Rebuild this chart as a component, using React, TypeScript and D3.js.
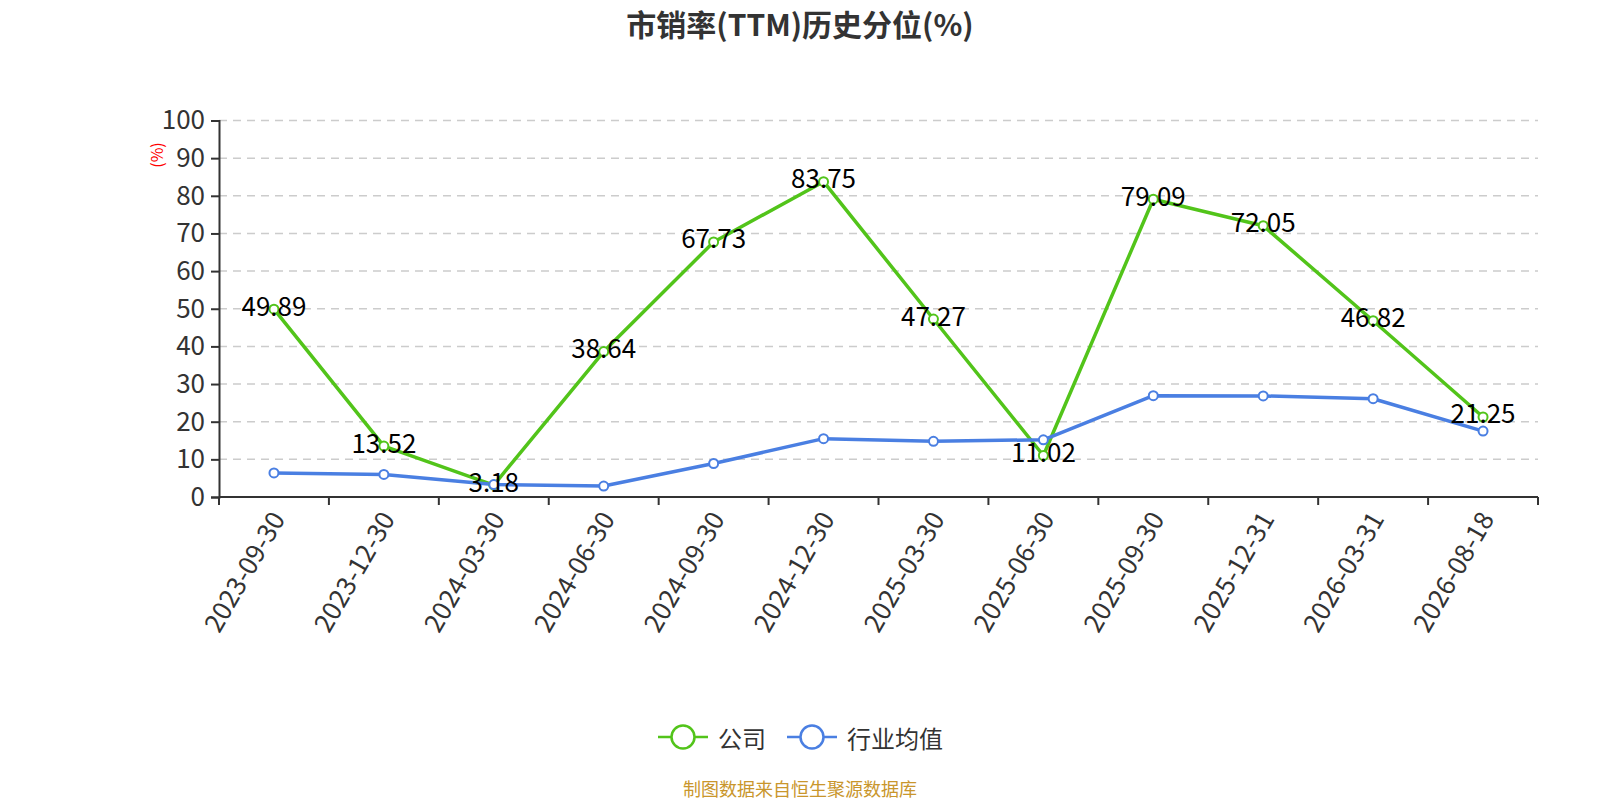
import React, { useRef, useEffect } from 'react';
import * as d3 from 'd3';

const WIDTH = 1600;
const HEIGHT = 800;
const FONT = '"Noto Sans CJK SC", "Noto Sans", sans-serif';

const dates = [
  '2023-09-30', '2023-12-30', '2024-03-30', '2024-06-30', '2024-09-30', '2024-12-30',
  '2025-03-30', '2025-06-30', '2025-09-30', '2025-12-31', '2026-03-31', '2026-08-18',
];
const companyValues = [49.89, 13.52, 3.18, 38.64, 67.73, 83.75, 47.27, 11.02, 79.09, 72.05, 46.82, 21.25];
const industryValues = [6.4, 6.0, 3.3, 2.9, 8.9, 15.5, 14.8, 15.2, 26.9, 26.85, 26.1, 17.5];
const yTicks = [0, 10, 20, 30, 40, 50, 60, 70, 80, 90, 100];

const series = [
  { name: '公司', values: companyValues, color: '#52c41a', labels: true },
  { name: '行业均值', values: industryValues, color: '#4a7fe2', labels: false },
];

const margin = { left: 219, right: 62, top: 120.5, bottom: 303 };

export default function App() {
  const svgRef = useRef<SVGSVGElement>(null);

  useEffect(() => {
    if (!svgRef.current) return;
    const svg = d3.select(svgRef.current);
    svg.selectAll('*').remove();

    const x = d3.scaleBand<string>().domain(dates).range([margin.left, WIDTH - margin.right]);
    const y = d3.scaleLinear().domain([0, 100]).range([HEIGHT - margin.bottom, margin.top]);
    const cx = (d: string) => (x(d) ?? 0) + x.bandwidth() / 2;

    // title
    svg.append('text')
      .attr('x', 800).attr('y', 23)
      .attr('text-anchor', 'middle').attr('dominant-baseline', 'central')
      .attr('font-family', FONT).attr('font-size', 30).attr('font-weight', 'bold')
      .attr('fill', '#333').text('市销率(TTM)历史分位(%)');

    // grid lines
    svg.append('g').selectAll('line').data(yTicks.filter(t => t > 0)).join('line')
      .attr('x1', margin.left).attr('x2', WIDTH - margin.right)
      .attr('y1', d => y(d)).attr('y2', d => y(d))
      .attr('stroke', '#ccc').attr('stroke-width', 1.5).attr('stroke-dasharray', '8,6');

    // y axis
    const yAxis = svg.append('g').attr('transform', `translate(${margin.left},0)`)
      .call(d3.axisLeft(y).tickValues(yTicks).tickSize(8).tickPadding(6));
    yAxis.select('.domain').attr('stroke', '#333').attr('stroke-width', 2);
    yAxis.selectAll('.tick line').attr('stroke', '#333').attr('stroke-width', 2);
    yAxis.selectAll('.tick text').attr('font-family', FONT).attr('font-size', 26).attr('fill', '#333');

    // y unit
    svg.append('text')
      .attr('transform', 'translate(156,155) rotate(-90)')
      .attr('text-anchor', 'middle').attr('dominant-baseline', 'central')
      .attr('font-family', FONT).attr('font-size', 16).attr('fill', 'red').text('(%)');

    // x axis
    const x0 = y(0);
    const xAxis = svg.append('g').attr('transform', `translate(0,${x0})`);
    xAxis.append('line')
      .attr('x1', margin.left).attr('x2', WIDTH - margin.right)
      .attr('stroke', '#333').attr('stroke-width', 2);
    const boundaries = [...dates.map(d => x(d) ?? 0), WIDTH - margin.right];
    xAxis.selectAll('line.tick').data(boundaries).join('line')
      .attr('class', 'tick')
      .attr('x1', d => d).attr('x2', d => d).attr('y1', 0).attr('y2', 8)
      .attr('stroke', '#333').attr('stroke-width', 2);
    xAxis.selectAll('text').data(dates).join('text')
      .attr('transform', d => `translate(${cx(d) + 2},${16}) rotate(-60)`)
      .attr('text-anchor', 'end').attr('dominant-baseline', 'central')
      .attr('font-family', FONT).attr('font-size', 26).attr('fill', '#333')
      .text(d => d);

    const line = d3.line<number>().x((_, i) => cx(dates[i])).y(d => y(d));

    series.forEach(s => {
      svg.append('path')
        .attr('d', line(s.values) ?? '')
        .attr('fill', 'none').attr('stroke', s.color).attr('stroke-width', 3.5)
        .attr('stroke-linejoin', 'round');
    });

    series.forEach(s => {
      svg.append('g').selectAll('circle').data(s.values).join('circle')
        .attr('cx', (_, i) => cx(dates[i])).attr('cy', d => y(d)).attr('r', 4.5)
        .attr('fill', '#fff').attr('stroke', s.color).attr('stroke-width', 2);
    });

    series.filter(s => s.labels).forEach(s => {
      svg.append('g').selectAll('text').data(s.values).join('text')
        .attr('x', (_, i) => cx(dates[i])).attr('y', d => y(d) - 5)
        .attr('text-anchor', 'middle').attr('dominant-baseline', 'central')
        .attr('font-family', FONT).attr('font-size', 26).attr('fill', '#000')
        .text(d => d.toFixed(2));
    });

    // legend
    const legendY = 737;
    const legendItems = [
      { s: series[0], x: 658 },
      { s: series[1], x: 787 },
    ];
    legendItems.forEach(({ s, x: lx }) => {
      const g = svg.append('g');
      g.append('line').attr('x1', lx).attr('x2', lx + 50).attr('y1', legendY).attr('y2', legendY)
        .attr('stroke', s.color).attr('stroke-width', 2.5);
      g.append('circle').attr('cx', lx + 25).attr('cy', legendY).attr('r', 11.5)
        .attr('fill', '#fff').attr('stroke', s.color).attr('stroke-width', 2.5);
      g.append('text').attr('x', lx + 60).attr('y', legendY)
        .attr('dominant-baseline', 'central')
        .attr('font-family', FONT).attr('font-size', 24).attr('fill', '#333').text(s.name);
    });

    // footer
    svg.append('text')
      .attr('x', 800).attr('y', 788)
      .attr('text-anchor', 'middle').attr('dominant-baseline', 'central')
      .attr('font-family', FONT).attr('font-size', 18).attr('fill', '#c9962c')
      .text('制图数据来自恒生聚源数据库');
  }, []);

  return (
    <div style={{ position: 'absolute', left: 0, top: 0 }}>
      <svg ref={svgRef} width={WIDTH} height={HEIGHT} style={{ display: 'block', background: '#fff' }} />
    </div>
  );
}
